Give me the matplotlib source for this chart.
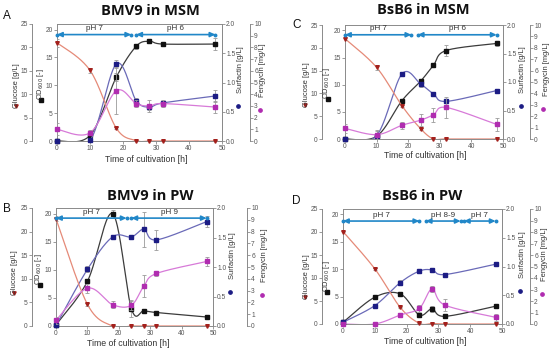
import numpy as np
import matplotlib
matplotlib.use("Agg")
import matplotlib.pyplot as plt

W, H = 550, 352
fig = plt.figure(figsize=(5.5, 3.52), dpi=100)

time = [0, 10, 18, 24, 28, 32, 48]

# ---------------- data ----------------
A_glucose = [21.0, 15.1, 2.7, 0.1, 0.0, 0.0, 0.0]
A_glucose_err = [0.9, 0.5, 0.2, 0, 0, 0, 0]
A_od = [0.0, 1.0, 11.5, 17.0, 17.9, 17.4, 17.4]
A_od_err = [0, 0.2, 0.7, 0.4, 0.2, 0.3, 1.1]
A_surf = [0.0, 0.01, 1.32, 0.69, 0.58, 0.65, 0.77]
A_surf_err = [0, 0, 0.07, 0.05, 0.05, 0.04, 0.1]
A_feng = [1.0, 0.7, 4.3, 3.2, 3.0, 3.2, 2.9]
A_feng_err = [0.5, 0.2, 2.0, 0.3, 0.5, 0.3, 0.5]

B_glucose = [22.7, 4.6, 0.0, 0.0, 0.0, 0.0, 0.0]
B_glucose_err = [0.5, 0.3, 0, 0, 0, 0, 0]
B_od = [0.2, 7.95, 20.0, 3.1, 2.7, 2.4, 1.6]
B_od_err = [0.1, 0.3, 0.7, 1.5, 0.2, 0.1, 0.1]
B_surf = [0.01, 0.96, 1.51, 1.51, 1.64, 1.46, 1.77]
B_surf_err = [0, 0.05, 0.02, 0.03, 0.3, 0.17, 0.1]
B_feng = [0.48, 3.2, 1.81, 1.76, 3.4, 4.45, 5.47]
B_feng_err = [0.3, 0.4, 0.3, 0.4, 0.9, 0.25, 0.35]

C_glucose = [22.0, 15.7, 7.3, 2.2, 0.0, 0.0, 0.0]
C_glucose_err = [0.3, 0.5, 0.3, 0.2, 0, 0, 0]
C_od = [0.0, 0.5, 7.05, 10.7, 13.6, 16.3, 17.6]
C_od_err = [0, 1.0, 0.3, 0.3, 0.3, 1.0, 0.5]
C_surf = [0.0, 0.06, 1.14, 0.96, 0.79, 0.66, 0.85]
C_surf_err = [0, 0.05, 0.04, 0.04, 0.03, 0.03, 0.02]
C_feng = [0.93, 0.38, 1.2, 1.66, 2.13, 2.77, 1.28]
C_feng_err = [0.4, 0.4, 0.3, 0.5, 0.6, 0.9, 0.55]

D_glucose = [20.1, 12.0, 3.6, 0.15, 0.1, 0.0, 0.0]
D_glucose_err = [0.2, 0.2, 0.2, 0, 0, 0, 0]
D_od = [0.3, 4.9, 5.5, 1.65, 2.75, 1.4, 3.25]
D_od_err = [0, 0.2, 0.2, 0.2, 0.5, 0.2, 0.2]
D_surf = [0.03, 0.32, 0.72, 0.92, 0.94, 0.86, 1.04]
D_surf_err = [0.02, 0.03, 0.04, 0.02, 0.02, 0.02, 0.02]
D_feng = [0.0, 0.0, 0.78, 1.36, 3.04, 1.65, 0.58]
D_feng_err = [0, 0, 0.2, 0.3, 0.3, 0.5, 0.3]

titles = ["BMV9 in MSM", "BMV9 in PW", "BsB6 in MSM", "BsB6 in PW"]
letters = ["A", "B", "C", "D"]
ph_A = [(0, 22.5, "pH 7"), (24, 48, "pH 6")]
ph_B = [(0, 22.5, "pH 7"), (24, 48, "pH 9")]
ph_C = [(0, 21, "pH 7"), (23, 48, "pH 6")]
ph_D = [(0, 24, "pH 7"), (26, 37, "pH 8-9"), (38, 48, "pH 7")]
ph_level = [19.1, 19.2, 19.2, 18.8]

# ---------------- styling ----------------
GRAY = "#8a8a8a"
TXT = "#555555"
C_GLC_L, C_GLC_M = "#e58a78", "#a3201c"
C_OD_L, C_OD_M = "#3c3c3c", "#111111"
C_SUR_L, C_SUR_M = "#6a6ab8", "#1c1c84"
C_FEN_L, C_FEN_M = "#d77ad8", "#b02cb0"
ARROW = "#2187c8"

plt.rcParams["font.family"] = ["Liberation Sans", "DejaVu Sans"]


def smooth(x, y, xmax, ymax, wpx, hpx, n=40):
    X = np.asarray(x, float) / xmax * wpx
    Y = np.asarray(y, float) / ymax * hpx
    P = np.column_stack([X, Y])
    Pe = np.vstack([P[0], P, P[-1]])
    out = []
    t = np.linspace(0, 1, n)[:, None]
    for i in range(len(P) - 1):
        p0, p1, p2, p3 = Pe[i], Pe[i + 1], Pe[i + 2], Pe[i + 3]
        c1 = p1 + (p2 - p0) / 6.0
        c2 = p2 - (p3 - p1) / 6.0
        seg = (1 - t) ** 3 * p1 + 3 * (1 - t) ** 2 * t * c1 + 3 * (1 - t) * t ** 2 * c2 + t ** 3 * p2
        out.append(seg if i == 0 else seg[1:])
    out = np.vstack(out)
    return out[:, 0] / wpx * xmax, out[:, 1] / hpx * ymax


def style_ticks(a):
    a.tick_params(length=2, width=0.6, color=GRAY, labelsize=4.8, labelcolor=TXT, pad=1.0)


panels = [
    dict(box=(57, 222, 24, 141), glc_off=25, fen_off=28,
         data=(A_glucose, A_glucose_err, A_od, A_od_err, A_surf, A_surf_err, A_feng, A_feng_err),
         ph=ph_A,
         title=(150, 11), letter=(3, 16), xlabel=(146, 160),
         mk=dict(glc=(16, 106), od=(41, 100), sur=(238, 106), fen=(260, 110))),
    dict(box=(56, 213, 208, 326), glc_off=24, fen_off=34,
         data=(B_glucose, B_glucose_err, B_od, B_od_err, B_surf, B_surf_err, B_feng, B_feng_err),
         ph=ph_B,
         title=(150, 196), letter=(3, 209), xlabel=(128, 343),
         mk=dict(glc=(14, 293), od=(40, 285), sur=(230, 292), fen=(262, 295))),
    dict(box=(345, 503, 25, 139), glc_off=23, fen_off=27,
         data=(C_glucose, C_glucose_err, C_od, C_od_err, C_surf, C_surf_err, C_feng, C_feng_err),
         ph=ph_C,
         title=(423, 10), letter=(292, 25), xlabel=(425, 155),
         mk=dict(glc=(305, 105), od=(328, 99), sur=(521, 106), fen=(543, 109))),
    dict(box=(343, 502, 209, 324), glc_off=21, fen_off=28,
         data=(D_glucose, D_glucose_err, D_od, D_od_err, D_surf, D_surf_err, D_feng, D_feng_err),
         ph=ph_D,
         title=(422, 196), letter=(292, 201), xlabel=(425, 341),
         mk=dict(glc=(305, 297), od=(327, 292), sur=(520, 291), fen=(542, 294))),
]

YMAX = dict(glc=25, od=21, sur=2.0, fen=10)

for k, p in enumerate(panels):
    L, R, T, B = p["box"]
    wpx, hpx = R - L, B - T
    ax = fig.add_axes([L / W, 1 - B / H, wpx / W, hpx / H])
    ax_s = ax.twinx()
    ax_g = ax.twinx()
    ax_f = ax.twinx()

    glc, glc_e, od, od_e, sur, sur_e, fen, fen_e = p["data"]

    ax.set_xlim(0, 50)
    ax.set_xticks([0, 10, 20, 30, 40, 50])
    ax.set_ylim(0, YMAX["od"])
    ax.set_yticks([0, 5, 10, 15, 20])
    ax_s.set_ylim(0, YMAX["sur"])
    ax_s.set_yticks([0.0, 0.5, 1.0, 1.5, 2.0])
    ax_s.yaxis.set_major_formatter(matplotlib.ticker.FormatStrFormatter("%.1f"))
    ax_g.set_ylim(0, YMAX["glc"])
    ax_g.set_yticks([0, 5, 10, 15, 20, 25])
    ax_f.set_ylim(0, YMAX["fen"])
    ax_f.set_yticks(range(0, 11))

    for a in (ax, ax_s, ax_g, ax_f):
        style_ticks(a)
        for s in a.spines.values():
            s.set_color(GRAY)
            s.set_linewidth(0.7)
        a.patch.set_alpha(0)

    ax_g.yaxis.set_ticks_position("left")
    ax_g.spines["left"].set_position(("axes", -p["glc_off"] / wpx))
    for s in ("right", "top", "bottom"):
        ax_g.spines[s].set_visible(False)
    ax_g.spines["left"].set_visible(True)
    ax_f.spines["right"].set_position(("axes", 1 + p["fen_off"] / wpx))
    for s in ("left", "top", "bottom"):
        ax_f.spines[s].set_visible(False)
    for s in ("left", "top", "bottom"):
        ax_s.spines[s].set_visible(False)

    series = [
        (ax_g, glc, glc_e, YMAX["glc"], C_GLC_L, C_GLC_M, "v", 2.6),
        (ax, od, od_e, YMAX["od"], C_OD_L, C_OD_M, "s", 2.2),
        (ax_s, sur, sur_e, YMAX["sur"], C_SUR_L, C_SUR_M, "s", 2.4),
        (ax_f, fen, fen_e, YMAX["fen"], C_FEN_L, C_FEN_M, "s", 2.4),
    ]
    for a, y, e, ym, lc, mc, mk, ms in series:
        xs, ys = smooth(time, y, 50, ym, wpx, hpx)
        a.plot(xs, ys, color=lc, lw=0.9, zorder=2, clip_on=True)
        a.errorbar(time, y, yerr=e, fmt="none", ecolor="#9a9a9a", elinewidth=0.6,
                   capsize=1.6, capthick=0.6, zorder=3)
        a.plot(time, y, mk, ms=ms, color=mc, mec=mc, zorder=4, clip_on=False)

    # pH arrows (drawn on the fengycin axis, converted from OD level)
    lvl = ph_level[k] / YMAX["od"] * YMAX["fen"]
    for x0, x1, lab in p["ph"]:
        ax_f.annotate("", xy=(x1, lvl), xytext=(x0, lvl),
                      arrowprops=dict(arrowstyle="<|-|>,head_length=0.3,head_width=0.14",
                                      color=ARROW, lw=1.2, shrinkA=0, shrinkB=0), zorder=6)
        ax_f.plot([x0, x1], [lvl, lvl], "o", ms=1.8, color=ARROW, zorder=6, clip_on=False)
        ax_f.text((x0 + x1) / 2, lvl + 0.22, lab, ha="center", va="bottom",
                  fontsize=5.8, color="#333333", zorder=6)

# ---------------- overlay with titles and labels ----------------
ov = fig.add_axes([0, 0, 1, 1], zorder=10)
ov.set_xlim(0, W)
ov.set_ylim(H, 0)
ov.axis("off")
ov.patch.set_alpha(0)

specs = [
    ("glc", "Glucose [g/L]", C_GLC_M, "v", 20, 1),
    ("od", "OD$_{600}$ [-]", C_OD_M, "s", 16, -1),
    ("sur", "Surfactin [g/L]", C_SUR_M, "o", 36, 2),
    ("fen", "Fengycin [mg/L]", C_FEN_M, "o", 40, 3),
]
for k, p in enumerate(panels):
    tx, ty = p["title"]
    ov.text(tx, ty, titles[k], ha="center", va="center", fontsize=10.5, fontweight="bold",
            family=["Open Sans", "DejaVu Sans"], color="#111111")
    lx, ly = p["letter"]
    ov.text(lx, ly, letters[k], ha="left", va="center", fontsize=8.5, color="#111111")
    xx, xy = p["xlabel"]
    ov.text(xx, xy, "Time of cultivation [h]", ha="center", va="center", fontsize=6.3, color="#333333")
    for key, text, col, mk, dy, dx in specs:
        mx, my = p["mk"][key]
        ov.text(mx + dx, my - dy, text, rotation=90, ha="center", va="center", fontsize=5.4, color="#333333")
        ov.plot([mx], [my], mk, ms=2.4, color=col)

fig.savefig("out.png", dpi=100)
